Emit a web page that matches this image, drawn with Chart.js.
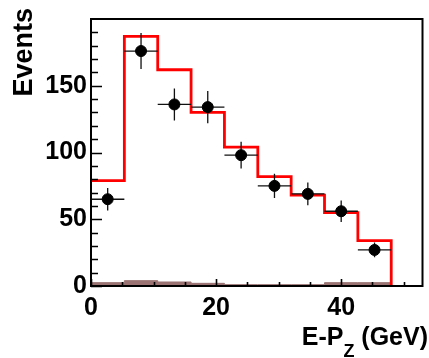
<!DOCTYPE html>
<html>
<head>
<meta charset="utf-8">
<script src="https://cdn.jsdelivr.net/npm/chart.js@4/dist/chart.umd.min.js"></script>
<style>
  html, body { margin: 0; padding: 0; background: #ffffff; }
  #c { display: block; }
</style>
</head>
<body>
<canvas id="c" width="429" height="358"></canvas>
<script>
// ---- data ----
const binEdges   = [0, 5.333, 10.667, 16, 21.333, 26.667, 32, 37.333, 42.667, 48];
const mcValues   = [79, 187, 162, 130, 104, 82, 68, 55, 34];          // red histogram
const bgValues   = [2.5, 4, 3, 2, 1, 1, 1, 2.5, 2.5];                  // brown background histogram
const dataValues = [65, 176, 136, 134, 98, 75, 69, 56, 27];            // black points
const dataErrors = [8.5, 13.5, 12, 12, 10, 9, 8.5, 8, 5.5];            // vertical error half-lengths
const xTickLabels = [0, 20, 40];
const yTickLabels = [0, 50, 100, 150];
const xMinorStep = 5, yMinorStep = 10;
const xRange = [0, 53], yRange = [0, 200];

// build step points from edges + values
function stepPoints(edges, vals) {
  const pts = vals.map((v, i) => ({ x: edges[i], y: v }));
  pts.push({ x: edges[edges.length - 1], y: vals[vals.length - 1] });
  pts.push({ x: edges[edges.length - 1], y: 0 });
  return pts;
}
const centers = dataValues.map((v, i) => (binEdges[i] + binEdges[i + 1]) / 2);
const halfWidths = dataValues.map((v, i) => (binEdges[i + 1] - binEdges[i]) / 2);
const points = dataValues.map((v, i) => ({ x: centers[i], y: v }));

const FONT = "'Liberation Sans', Arial, Helvetica, sans-serif";

const errorBars = {
  id: 'errorBars',
  beforeDatasetDraw(chart, args) {
    if (args.index !== 0) return;
    const { ctx, scales: { x, y } } = chart;
    ctx.save();
    ctx.strokeStyle = '#111';
    ctx.lineWidth = 1.3;
    dataValues.forEach((v, i) => {
      const cx = x.getPixelForValue(centers[i]);
      const cy = y.getPixelForValue(v);
      ctx.beginPath();
      ctx.moveTo(x.getPixelForValue(centers[i] - halfWidths[i]), cy);
      ctx.lineTo(x.getPixelForValue(centers[i] + halfWidths[i]), cy);
      ctx.moveTo(cx, y.getPixelForValue(v - dataErrors[i]));
      ctx.lineTo(cx, y.getPixelForValue(v + dataErrors[i]));
      ctx.stroke();
    });
    ctx.restore();
  }
};

const frameAndTitles = {
  id: 'frameAndTitles',
  afterDraw(chart) {
    const { ctx, chartArea: a, scales: { x, y } } = chart;
    ctx.save();
    ctx.strokeStyle = '#000';
    ctx.lineWidth = 2;
    ctx.strokeRect(a.left, a.top, a.right - a.left, a.bottom - a.top);
    // inward ticks, left axis
    ctx.lineWidth = 1.6;
    ctx.beginPath();
    for (let v = yRange[0]; v <= yRange[1] - 1; v += yMinorStep) {
      const py = Math.round(y.getPixelForValue(v)) + 0.5;
      const len = (v % 50 === 0) ? 11 : 7;
      ctx.moveTo(a.left, py);
      ctx.lineTo(a.left + len, py);
    }
    // inward ticks, bottom axis
    for (let v = xRange[0]; v <= xRange[1]; v += xMinorStep) {
      const px = Math.round(x.getPixelForValue(v)) + 0.5;
      const len = (v % 20 === 0) ? 7 : 4;
      ctx.moveTo(px, a.bottom);
      ctx.lineTo(px, a.bottom - len);
    }
    ctx.stroke();

    ctx.fillStyle = '#000';
    // y title
    ctx.save();
    ctx.translate(32, 8);
    ctx.rotate(-Math.PI / 2);
    ctx.font = 'bold 27px ' + FONT;
    ctx.textAlign = 'right';
    ctx.textBaseline = 'alphabetic';
    ctx.fillText('Events', 0, 0);
    ctx.restore();

    // x title with subscript
    const big = 'bold 25px ' + FONT, small = 'bold 18px ' + FONT;
    const p1 = 'E-P', sub = 'Z', p2 = ' (GeV)';
    ctx.font = big; const w1 = ctx.measureText(p1).width, w3 = ctx.measureText(p2).width;
    ctx.font = small; const w2 = ctx.measureText(sub).width;
    let sx = 428 - (w1 + w2 + w3);
    ctx.textAlign = 'left';
    ctx.textBaseline = 'alphabetic';
    ctx.font = big; ctx.fillText(p1, sx, 345); sx += w1;
    ctx.font = small; ctx.fillText(sub, sx, 357); sx += w2;
    ctx.font = big; ctx.fillText(p2, sx, 345);
    ctx.restore();
  }
};

new Chart(document.getElementById('c'), {
  type: 'line',
  data: {
    datasets: [
      {
        type: 'scatter',
        label: 'Data',
        data: points,
        pointRadius: 5.5,
        pointHoverRadius: 5.5,
        pointBackgroundColor: '#000',
        pointBorderColor: '#000',
        showLine: false
      },
      {
        label: 'MC',
        data: stepPoints(binEdges, mcValues),
        stepped: 'before',
        borderColor: '#ff0000',
        borderWidth: 2.8,
        pointRadius: 0,
        fill: false
      },
      {
        label: 'Background',
        data: stepPoints(binEdges, bgValues),
        stepped: 'before',
        borderColor: 'rgb(155,115,115)',
        backgroundColor: 'rgb(155,115,115)',
        borderWidth: 1,
        pointRadius: 0,
        fill: 'origin'
      }
    ]
  },
  options: {
    responsive: false,
    animation: false,
    devicePixelRatio: 1,
    layout: { padding: { top: 8, right: 1, left: 0, bottom: 0 } },
    plugins: { legend: { display: false }, tooltip: { enabled: false } },
    scales: {
      x: {
        type: 'linear',
        min: xRange[0], max: xRange[1],
        grid: { display: false, drawTicks: false },
        border: { display: false },
        afterBuildTicks: s => { s.ticks = xTickLabels.map(v => ({ value: v })); },
        afterFit: s => { s.height = 72; },
        ticks: { color: '#000', padding: 7, maxRotation: 0, autoSkip: false,
                 font: { family: FONT, size: 25, weight: 'bold' } }
      },
      y: {
        type: 'linear',
        min: yRange[0], max: yRange[1],
        grid: { display: false, drawTicks: false },
        border: { display: false },
        afterBuildTicks: s => { s.ticks = yTickLabels.map(v => ({ value: v })); },
        afterFit: s => { s.width = 91; },
        ticks: { color: '#000', padding: 4, autoSkip: false,
                 font: { family: FONT, size: 25, weight: 'bold' } }
      }
    }
  },
  plugins: [errorBars, frameAndTitles]
});
</script>
</body>
</html>
